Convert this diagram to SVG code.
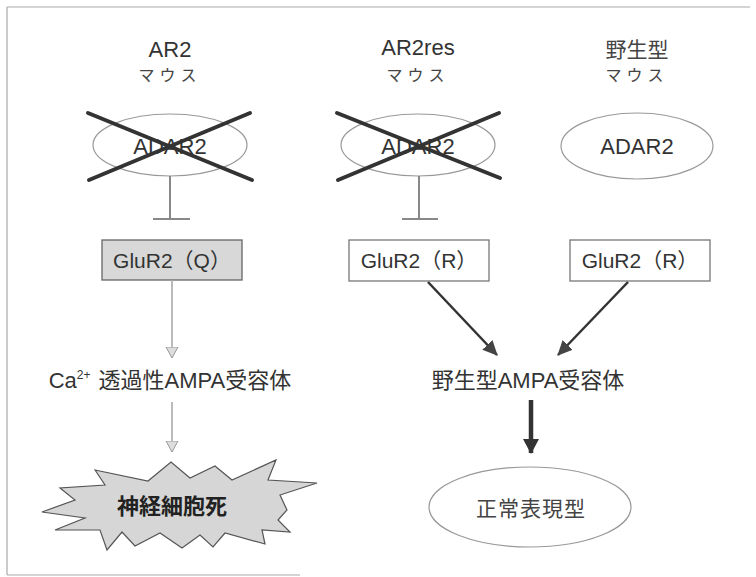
<svg xmlns="http://www.w3.org/2000/svg" width="756" height="577" viewBox="0 0 756 577">
<defs>
<style>
.t{font-family:"Liberation Sans","Noto Sans CJK JP",sans-serif;fill:#333;text-anchor:middle}
.j{font-family:"Noto Sans CJK JP","Liberation Sans",sans-serif;fill:#444;text-anchor:middle}
.ell{fill:#fff;stroke:#999;stroke-width:1.2}
.box{fill:#fff;stroke:#777;stroke-width:1.3}
.cross{stroke:#333;stroke-width:4;stroke-linecap:round}
.inh{stroke:#888;stroke-width:2;fill:none}
.garr{stroke:#aaa;stroke-width:1.6;fill:none}
.darr{stroke:#333;stroke-width:2.5;fill:none}
.frame{stroke:#aaa;stroke-width:1.2;fill:none}
</style>
<marker id="gh" markerWidth="12" markerHeight="14" refX="11" refY="6" orient="auto" markerUnits="userSpaceOnUse" viewBox="0 0 12 12">
<path d="M0,0 L11,6 L0,12 Z" fill="#ddd" stroke="#999" stroke-width="1"/>
</marker>
<marker id="dh" markerWidth="16" markerHeight="16" refX="14" refY="8" orient="auto" markerUnits="userSpaceOnUse" viewBox="0 0 16 16">
<path d="M0,1 L15,8 L0,15 Z" fill="#444"/>
</marker>
<marker id="bh" markerWidth="16" markerHeight="16" refX="14" refY="8" orient="auto" markerUnits="userSpaceOnUse" viewBox="0 0 16 16">
<path d="M0,0 L15,8 L0,16 Z" fill="#333"/>
</marker>
</defs>
<rect width="756" height="577" fill="#fff"/>
<g id="frame">
<line class="frame" x1="7" y1="7" x2="750" y2="7"/>
<line class="frame" x1="7" y1="7" x2="7" y2="575"/>
<line class="frame" x1="7" y1="575" x2="300" y2="575"/>
</g>

<g id="title-ar2">
<text class="t" x="170" y="57" font-size="22">AR2</text>
<text class="j" x="170" y="81" font-size="16" letter-spacing="5">マウス</text>
</g>
<g id="title-ar2res">
<text class="t" x="418" y="55" font-size="22">AR2res</text>
<text class="j" x="418" y="81" font-size="16" letter-spacing="5">マウス</text>
</g>
<g id="title-wt">
<text class="j" x="637" y="57" font-size="21">野生型</text>
<text class="j" x="637" y="81" font-size="16" letter-spacing="5">マウス</text>
</g>

<g id="adar2-left">
<ellipse class="ell" cx="170" cy="145" rx="77" ry="31"/>
<text class="t" x="170" y="154" font-size="22">ADAR2</text>
<line class="cross" x1="88" y1="113" x2="252" y2="180"/>
<line class="cross" x1="89" y1="180" x2="250" y2="113"/>
</g>
<g id="adar2-mid">
<ellipse class="ell" cx="418" cy="145" rx="77" ry="31"/>
<text class="t" x="418" y="154" font-size="22">ADAR2</text>
<line class="cross" x1="337" y1="113" x2="500" y2="178"/>
<line class="cross" x1="338" y1="180" x2="499" y2="113"/>
</g>
<g id="adar2-right">
<ellipse class="ell" cx="637" cy="146" rx="76" ry="33"/>
<text class="t" x="637" y="154" font-size="22">ADAR2</text>
</g>

<g id="gluq">
<rect x="102" y="240" width="140" height="40" fill="#d8d8d8" stroke="#666" stroke-width="1.3"/>
<text class="t" x="172" y="268" font-size="21">GluR2（Q）</text>
</g>
<g id="glur-mid">
<rect class="box" x="349" y="240" width="140" height="41"/>
<text class="t" x="419" y="268" font-size="21">GluR2（R）</text>
</g>
<g id="glur-right">
<rect class="box" x="570" y="240" width="140" height="41"/>
<text class="t" x="640" y="268" font-size="21">GluR2（R）</text>
</g>

<g id="ca-ampa">
<text class="t" x="170" y="388" font-size="22">Ca<tspan font-size="12" dy="-9">2+</tspan><tspan dy="9" dx="8">透過性AMPA受容体</tspan></text>
</g>
<g id="wt-ampa">
<text class="t" x="528" y="388" font-size="22">野生型AMPA受容体</text>
</g>

<g id="death">
<polygon points="95,470 148,481 171,462 190,478 215,466 232,480 276,460 268,480 317,483 280,495 287,510 278,520 290,532 262,530 265,544 225,533 213,547 200,535 182,548 160,533 135,546 122,532 107,550 100,530 55,530 85,518 42,512 75,500 60,488 105,485" fill="#d6d6d6" stroke="#555" stroke-width="1.2" stroke-linejoin="miter"/>
<text class="j" x="172" y="514" font-size="22" font-weight="bold" style="fill:#222">神経細胞死</text>
</g>

<g id="normal">
<ellipse class="ell" cx="530" cy="507" rx="101" ry="40"/>
<text class="j" x="531" y="516" font-size="21" letter-spacing="1">正常表現型</text>
</g>

<g id="connectors">
<line class="inh" x1="170" y1="176" x2="170" y2="219"/>
<line class="inh" x1="153" y1="219" x2="190" y2="219"/>
<line class="inh" x1="419" y1="176" x2="419" y2="219"/>
<line class="inh" x1="402" y1="219" x2="438" y2="219"/>
<line class="garr" x1="172" y1="280" x2="172" y2="358" marker-end="url(#gh)"/>
<line class="garr" x1="172" y1="402" x2="172" y2="452" marker-end="url(#gh)"/>
<line class="darr" x1="428" y1="282" x2="497" y2="355" marker-end="url(#dh)"/>
<line class="darr" x1="628" y1="282" x2="558" y2="355" marker-end="url(#dh)"/>
<line stroke="#333" stroke-width="4.5" x1="531" y1="400" x2="531" y2="453" marker-end="url(#bh)"/>
</g>
</svg>
